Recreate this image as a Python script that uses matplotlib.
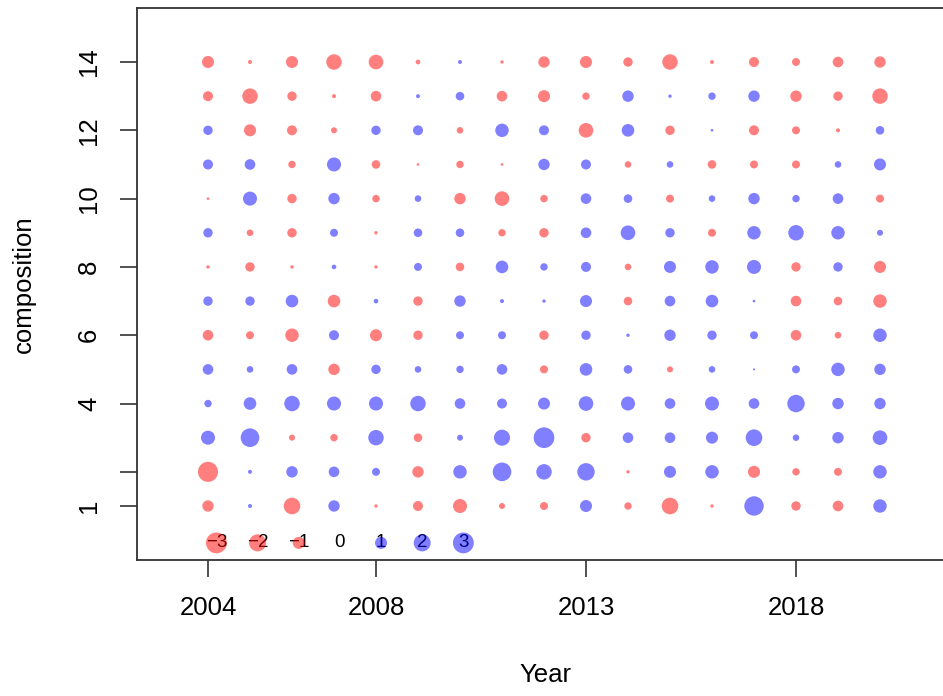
import matplotlib
matplotlib.use("Agg")
import matplotlib.pyplot as plt
import numpy as np

plt.rcParams['font.family'] = ['Liberation Sans', 'DejaVu Sans']

years = list(range(2004, 2021))
comps = list(range(1, 15))

# residuals by composition (rows), one value per year
c1 = [-0.90, 0.11, -1.91, 0.90, -0.08, -0.69, -1.36, -0.25, -0.44, 1.00, -0.38, -1.91, -0.08, 2.61, -0.61, -0.78, 1.25]
c2 = [-2.78, 0.11, 0.90, 0.78, 0.44, -0.90, 1.25, 2.40, 1.65, 2.10, -0.08, 1.00, 1.25, -1.00, -0.38, -0.44, 1.25]
c3 = [1.36, 2.40, -0.25, -0.38, 1.65, -0.51, 0.25, 1.78, 2.95, -0.61, 0.78, 0.78, 1.00, 1.91, 0.30, 0.90, 1.48]
c4 = [0.38, 1.10, 1.65, 1.36, 1.36, 1.65, 0.78, 0.69, 1.00, 1.48, 1.36, 0.78, 1.36, 0.78, 2.10, 0.90, 0.90]
c5 = [0.78, 0.30, 0.78, -0.90, 0.61, 0.30, 0.38, 0.78, -0.44, 1.10, 0.51, -0.25, 0.30, 0.03, 0.44, 1.25, 0.90]
c6 = [-0.78, -0.44, -1.25, 0.69, -1.00, -0.61, 0.44, 0.44, -0.61, 0.61, 0.08, 0.90, 0.61, 0.44, -0.78, -0.30, 1.25]
c7 = [0.61, 0.61, 1.10, -1.10, 0.15, -0.61, 0.90, 0.11, 0.08, 1.00, -0.51, 0.78, 1.10, 0.05, -0.78, -0.51, -1.25]
c8 = [-0.08, -0.61, -0.08, 0.15, -0.08, 0.44, -0.51, 1.10, 0.38, 0.69, -0.30, 1.00, 1.25, 1.36, -0.61, 0.61, -1.00]
c9 = [0.61, -0.30, -0.61, 0.44, -0.08, 0.51, 0.51, -0.38, -0.61, 0.78, 1.48, 0.61, -0.44, 1.25, 1.65, 1.25, 0.25]
c10 = [-0.05, 1.36, -0.61, 0.90, -0.38, 0.30, -0.90, -1.48, -0.38, 0.78, 0.51, -0.44, 0.30, 0.90, 0.38, 0.78, -0.44]
c11 = [0.69, 0.78, -0.38, 1.36, -0.51, -0.05, -0.38, -0.05, 0.90, 0.69, -0.30, 0.30, -0.51, -0.44, -0.44, 0.30, 1.00]
c12 = [0.61, -1.00, -0.69, -0.25, 0.61, 0.69, -0.30, 1.25, 0.69, -1.48, 1.10, -0.61, 0.05, -0.69, -0.44, -0.11, 0.51]
c13 = [-0.69, -1.65, -0.61, -0.11, -0.78, 0.11, 0.51, -0.78, -1.00, -0.38, 0.90, 0.08, 0.38, 0.90, -0.90, -0.61, -1.65]
c14 = [-1.00, -0.11, -1.00, -1.65, -1.48, -0.15, 0.11, -0.08, -0.90, -1.00, -0.61, -1.65, -0.11, -0.69, -0.44, -0.78, -0.90]

legend_vals = [-3, -2, -1, 0, 1, 2, 3]
xticks = [2004, 2008, 2013, 2018]
yticks = [1, 2, 4, 6, 8, 10, 12, 14]
ytick_labels = ['1', '', '4', '6', '8', '10', '12', '14']

resid = np.array([c1, c2, c3, c4, c5, c6, c7, c8, c9, c10, c11, c12, c13, c14])
X, Y = np.meshgrid(years, comps)

red = (1, 0, 0, 0.5)
blue = (0, 0, 1, 0.5)
scale = 75  # marker area per unit of |residual|

fig = plt.figure(figsize=(9.43, 6.96), dpi=100)
W, H = 943, 696
ax = fig.add_axes([137 / W, (H - 560) / H, (965 - 137) / W, (560 - 8) / H])

v = resid.ravel()
cols = [red if r < 0 else blue for r in v]
ax.scatter(X.ravel(), Y.ravel(), s=scale * np.abs(v), c=cols, linewidths=0, zorder=3)

# size legend inside the plot
lx = 2004.2 + 0.98 * np.arange(len(legend_vals))
ly = -0.08
for xx, lv in zip(lx, legend_vals):
    ax.text(xx, ly, str(lv).replace('-', '\u2212'), ha='center', va='center',
            fontsize=13.5, color='black', zorder=2)
lcols = [red if lv < 0 else blue for lv in legend_vals]
ax.scatter(lx, [ly] * len(lx), s=scale * np.abs(legend_vals), c=lcols, linewidths=0, zorder=4)

ax.set_xlim(2004 - 71 / 42, 2004 + (965 - 208) / 42)
ax.set_ylim(1 - 54 / 34.15, 14 + 54 / 34.15)

ax.set_xticks(xticks)
ax.set_xticklabels([str(x) for x in xticks], fontsize=18.5)
ax.set_yticks(yticks)
ax.set_yticklabels(ytick_labels, fontsize=18.5, rotation=90, va='center')
ax.tick_params(axis='both', direction='out', length=12, width=1.1, pad=14, color='#222222')

for sp in ax.spines.values():
    sp.set_linewidth(1.3)
    sp.set_color('#333333')

fig.text(545 / W, 1 - 675 / H, 'Year', ha='center', va='center', fontsize=18.5)
fig.text(24 / W, 1 - 284 / H, 'composition', ha='center', va='center', rotation=90, fontsize=18.5)

fig.savefig('out.png', dpi=100)
